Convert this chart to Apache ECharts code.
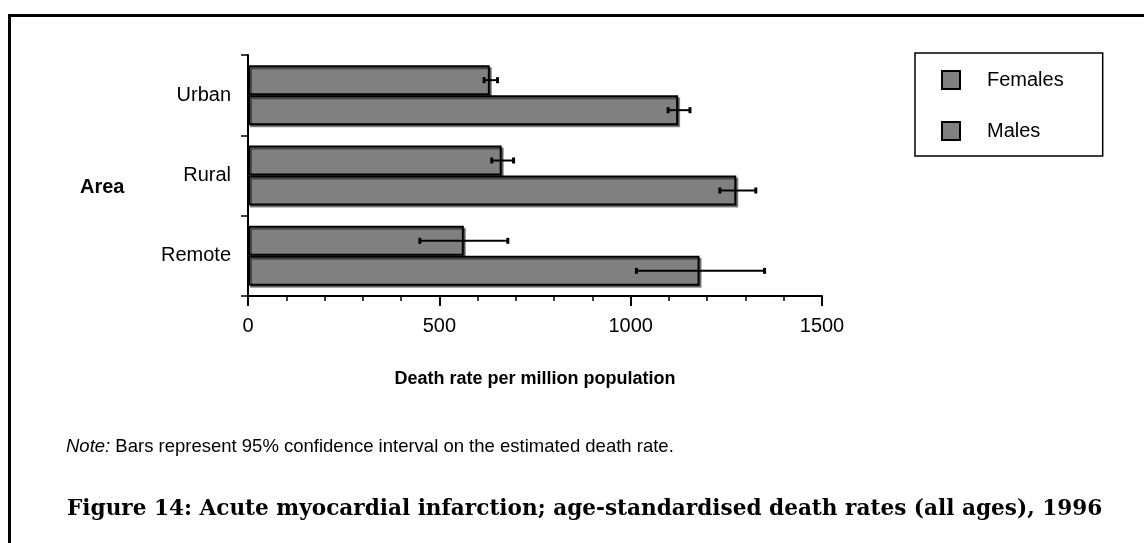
<!DOCTYPE html>
<html>
<head>
<meta charset="utf-8">
<title>Figure 14</title>
<script src="https://cdn.jsdelivr.net/npm/echarts@6/dist/echarts.min.js"></script>
<style>
  html, body { margin: 0; padding: 0; background: #fff; }
  #main { width: 1144px; height: 543px; }
</style>
</head>
<body>
<div id="main"></div>
<script>
// data
var areas = ['Urban', 'Rural', 'Remote'];
var females = [632, 663, 564];
var femalesLow = [617, 637, 449];
var femalesHigh = [652, 694, 679];
var males = [1124, 1276, 1180];
var malesLow = [1098, 1233, 1015];
var malesHigh = [1155, 1327, 1350];
var xTicks = [0, 500, 1000, 1500];

var SANS = '"Liberation Sans", Arial, sans-serif';
var BAR_W = 30;

var chart = echarts.init(document.getElementById('main'));

function errData(lo, hi) {
  var out = [];
  for (var i = 0; i < lo.length; i++) out.push([i, lo[i], hi[i]]);
  return out;
}

// error bar drawn through the middle of the bar, shifted by half a bar
function errRender(sign) {
  return function (params, api) {
    var cat = api.value(0);
    var a = api.coord([api.value(1), cat]);
    var b = api.coord([api.value(2), cat]);
    var y = a[1] + sign * BAR_W / 2;
    var st = { stroke: '#000', lineWidth: 2 };
    return {
      type: 'group',
      children: [
        { type: 'line', shape: { x1: a[0], y1: y, x2: b[0], y2: y }, style: st },
        { type: 'line', shape: { x1: a[0], y1: y - 3, x2: a[0], y2: y + 3 }, style: { stroke: '#000', lineWidth: 3 } },
        { type: 'line', shape: { x1: b[0], y1: y - 3, x2: b[0], y2: y + 3 }, style: { stroke: '#000', lineWidth: 3 } }
      ]
    };
  };
}

var barStyle = {
  color: '#808080',
  borderColor: '#000',
  borderWidth: 2,
  shadowColor: 'rgba(0,0,0,0.45)',
  shadowOffsetX: 2,
  shadowOffsetY: 2,
  shadowBlur: 0
};

var option = {
  backgroundColor: '#fff',
  animation: false,
  grid: { left: 248, right: 322, top: 55, height: 241, containLabel: false },
  legend: {
    orient: 'vertical',
    left: 915,
    top: 53,
    data: ['Females', 'Males'],
    icon: 'rect',
    itemWidth: 18,
    itemHeight: 18,
    itemGap: 31,
    padding: [17, 39, 15, 26],
    borderColor: '#000',
    borderWidth: 1.5,
    textStyle: { fontFamily: SANS, fontSize: 20, color: '#000', padding: [0, 0, 0, 22], lineHeight: 20 }
  },
  xAxis: {
    type: 'value',
    min: xTicks[0],
    max: xTicks[xTicks.length - 1],
    interval: 500,
    name: 'Death rate per million population',
    nameLocation: 'middle',
    nameGap: 74,
    nameTextStyle: { fontFamily: SANS, fontSize: 18, fontWeight: 'bold', color: '#000' },
    axisLine: { show: true, lineStyle: { color: '#000', width: 2 } },
    axisTick: { show: true, length: 10, lineStyle: { color: '#000', width: 2 } },
    minorTick: { show: true, splitNumber: 5, length: 5, lineStyle: { color: '#000', width: 1.5 } },
    axisLabel: { fontFamily: SANS, fontSize: 20, color: '#000', margin: 20, formatter: function (v) { return String(v); } },
    splitLine: { show: false }
  },
  yAxis: {
    type: 'category',
    inverse: true,
    data: areas,
    axisLine: { show: true, lineStyle: { color: '#000', width: 2 } },
    axisTick: { show: true, length: 7, lineStyle: { color: '#000', width: 1.5 } },
    axisLabel: { fontFamily: SANS, fontSize: 20, color: '#000', margin: 17 },
    splitLine: { show: false }
  },
  series: [
    { name: 'Females', type: 'bar', data: females, barWidth: BAR_W, barGap: '0%', itemStyle: barStyle },
    { name: 'Males', type: 'bar', data: males, barWidth: BAR_W, barGap: '0%', itemStyle: barStyle },
    { name: 'femErr', type: 'custom', data: errData(femalesLow, femalesHigh), encode: { x: [1, 2], y: 0 }, renderItem: errRender(-1), z: 5 },
    { name: 'maleErr', type: 'custom', data: errData(malesLow, malesHigh), encode: { x: [1, 2], y: 0 }, renderItem: errRender(1), z: 5 }
  ],
  graphic: [
    // frame (only top and left edges are in view)
    { type: 'line', shape: { x1: 8, y1: 15.5, x2: 1144, y2: 15.5 }, style: { stroke: '#000', lineWidth: 3 } },
    { type: 'line', shape: { x1: 9.5, y1: 14, x2: 9.5, y2: 543 }, style: { stroke: '#000', lineWidth: 3 } },
    { type: 'text', left: 80, top: 177, style: { text: 'Area', fontFamily: SANS, fontSize: 20, fontWeight: 'bold', fill: '#000' } },
    {
      type: 'text', left: 66, top: 437,
      style: {
        text: '{i|Note:} Bars represent 95% confidence interval on the estimated death rate.',
        fontFamily: SANS, fontSize: 18.5, fill: '#000',
        rich: { i: { fontStyle: 'italic', fontFamily: SANS, fontSize: 18.5 } }
      }
    },
    {
      type: 'text', left: 67, top: 498,
      style: {
        text: 'Figure 14: Acute myocardial infarction; age-standardised death rates (all ages), 1996',
        fontFamily: '"DejaVu Serif", serif', fontSize: 21.6, fontWeight: 'bold', fill: '#000'
      }
    }
  ]
};

chart.setOption(option);
</script>
</body>
</html>
